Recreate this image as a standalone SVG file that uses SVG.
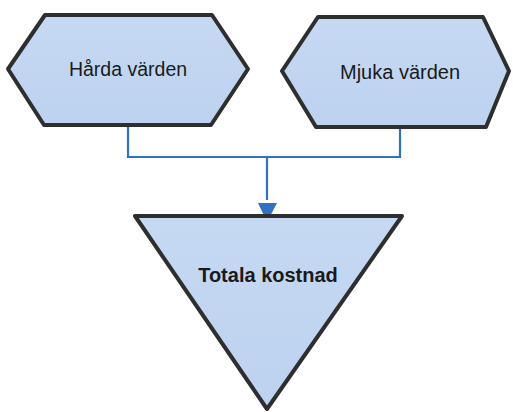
<svg xmlns="http://www.w3.org/2000/svg" width="513" height="412" viewBox="0 0 513 412">
<style>
.shape{fill:url(#g);stroke:#2e2e2e;stroke-width:4;stroke-linejoin:round}
.lbl{font-family:"Liberation Sans",Arial,sans-serif;fill:#1a1a1a;text-anchor:middle}
.conn{fill:none;stroke:#2f72c4;stroke-width:2.2}
</style>
<defs>
<linearGradient id="g" x1="0" y1="0" x2="0" y2="1">
<stop offset="0" stop-color="#c6d9f3"/>
<stop offset="1" stop-color="#bcd2ef"/>
</linearGradient>
<marker id="arr" markerWidth="10" markerHeight="10" refX="9" refY="5" orient="auto" markerUnits="userSpaceOnUse" viewBox="0 0 10 10">
<path d="M0,0 L10,5 L0,10 z" fill="#2f72c4"/>
</marker>
</defs>
<rect width="513" height="412" fill="#ffffff"/>
<g id="connectors">
<polyline class="conn" points="128,125 128,157 400,157 400,127"/>
<line class="conn" x1="267" y1="157" x2="267" y2="200"/>
<path d="M258,203 L277,203 L267,222 z" fill="#2f72c4"/>
</g>
<g id="node-harda">
<polygon class="shape" points="45,15 212,15 248,69 211,125 44,125 8,69"/>
<text class="lbl" x="128" y="76" font-size="19.5">Hårda värden</text>
</g>
<g id="node-mjuka">
<polygon class="shape" points="318,17 483,17 509,71 486,127 316,127 282,71"/>
<text class="lbl" x="400" y="79" font-size="20">Mjuka värden</text>
</g>
<g id="node-totala">
<polygon class="shape" points="135,216 402,216 267,409"/>
<text class="lbl" x="268" y="282" font-size="20" font-weight="bold">Totala kostnad</text>
</g>
</svg>
